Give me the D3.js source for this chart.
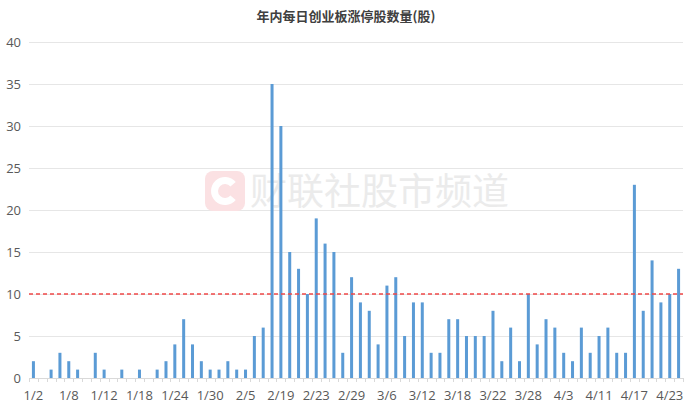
<!DOCTYPE html>
<html>
<head>
<meta charset="utf-8">
<script src="https://cdn.jsdelivr.net/npm/d3@7"></script>
<style>
  body { margin: 0; background: #fff; }
  svg { display: block; font-family: "Microsoft YaHei", "Noto Sans CJK SC", sans-serif; }
</style>
</head>
<body>
<svg id="chart"></svg>
<script>
// trading days (2024)
const dates = [
  "1/2", "1/3", "1/4", "1/5", "1/8", "1/9", "1/10", "1/11", "1/12", "1/15",
  "1/16", "1/17", "1/18", "1/19", "1/22", "1/23", "1/24", "1/25", "1/26", "1/29",
  "1/30", "1/31", "2/1", "2/2", "2/5", "2/6", "2/7", "2/8", "2/19", "2/20",
  "2/21", "2/22", "2/23", "2/26", "2/27", "2/28", "2/29", "3/1", "3/4", "3/5",
  "3/6", "3/7", "3/8", "3/11", "3/12", "3/13", "3/14", "3/15", "3/18", "3/19",
  "3/20", "3/21", "3/22", "3/25", "3/26", "3/27", "3/28", "3/29", "4/1", "4/2",
  "4/3", "4/8", "4/9", "4/10", "4/11", "4/12", "4/15", "4/16", "4/17", "4/18",
  "4/19", "4/22", "4/23", "4/24"
];
const limitUps = [
  2, 0, 1, 3, 2, 1, 0, 3, 1, 0,
  1, 0, 1, 0, 1, 2, 4, 7, 4, 2,
  1, 1, 2, 1, 1, 5, 6, 35, 30, 15,
  13, 10, 19, 16, 15, 3, 12, 9, 8, 4,
  11, 12, 5, 9, 9, 3, 3, 7, 7, 5,
  5, 5, 8, 2, 6, 2, 10, 4, 7, 6,
  3, 2, 6, 3, 5, 6, 3, 3, 23, 8,
  14, 9, 10, 13
];
const yTicks = [0, 5, 10, 15, 20, 25, 30, 35, 40];
const refLine = 10;
const title = "年内每日创业板涨停股数量(股)";
const watermark = "财联社股市频道";

const W = 692, H = 409;
const margin = { top: 42, right: 9, bottom: 31, left: 29 };
const innerW = W - margin.left - margin.right;
const innerH = H - margin.top - margin.bottom;

const svg = d3.select("#chart").attr("width", W).attr("height", H);

svg.append("text")
  .attr("x", W / 2).attr("y", 21)
  .attr("text-anchor", "middle")
  .style("font-size", "13px").style("font-weight", "bold")
  .style("fill", "#404040")
  .text(title);

const g = svg.append("g").attr("transform", "translate(" + margin.left + "," + margin.top + ")");

const x = d3.scaleBand().domain(dates).range([0, innerW]).paddingInner(0.66).paddingOuter(0.33);
const y = d3.scaleLinear().domain([0, 40]).range([innerH, 0]);

// gridlines
g.selectAll(".grid")
  .data(yTicks.filter(d => d > 0))
  .enter().append("line")
  .attr("x1", 0).attr("x2", innerW)
  .attr("y1", d => Math.round(y(d)) + 0.5).attr("y2", d => Math.round(y(d)) + 0.5)
  .attr("stroke", "#e6e6e6").attr("stroke-width", 1);

// y labels
g.selectAll(".ylab")
  .data(yTicks)
  .enter().append("text")
  .attr("x", -8).attr("y", d => y(d))
  .attr("dy", "0.35em")
  .attr("text-anchor", "end")
  .style("font-size", "13px").style("fill", "#595959")
  .style("font-family", "'Open Sans', sans-serif")
  .text(d => d);

// watermark
const wm = g.append("g").attr("transform", "translate(" + (205 - margin.left) + "," + (171 - margin.top) + ")");
wm.append("rect").attr("width", 40).attr("height", 40).attr("rx", 8).attr("fill", "#fbe1e3");
wm.append("path")
  .attr("d", d3.arc()({ innerRadius: 7, outerRadius: 14, startAngle: Math.PI * 0.22, endAngle: Math.PI * 1.78 }))
  .attr("transform", "translate(20,20) rotate(90)")
  .attr("fill", "#fff");
wm.append("text")
  .attr("x", 45).attr("y", 34)
  .style("font-size", "37px").style("fill", "#ebebeb")
  .style("font-family", "'Noto Sans CJK SC', sans-serif")
  .text(watermark);

// bars
g.selectAll(".bar")
  .data(limitUps)
  .enter().append("rect")
  .attr("x", (d, i) => x(dates[i]))
  .attr("y", d => y(d))
  .attr("width", x.bandwidth())
  .attr("height", d => innerH - y(d))
  .attr("fill", "#5b9bd5");

// x axis baseline with ticks between categories
const xAxis = g.append("g").attr("transform", "translate(0," + innerH + ")");
xAxis.append("line").attr("x1", 0).attr("x2", innerW).attr("y1", 0.5).attr("y2", 0.5)
  .attr("stroke", "#d9d9d9");
const step = x.step();
xAxis.selectAll(".tick")
  .data(d3.range(dates.length + 1))
  .enter().append("line")
  .attr("x1", i => Math.round(i * step) + 0.5).attr("x2", i => Math.round(i * step) + 0.5)
  .attr("y1", 0).attr("y2", 4)
  .attr("stroke", "#d9d9d9");
xAxis.selectAll(".xlab")
  .data(dates.filter((d, i) => i % 4 === 0))
  .enter().append("text")
  .attr("x", d => x(d) + x.bandwidth() / 2)
  .attr("y", 22)
  .attr("text-anchor", "middle")
  .style("font-size", "13px").style("fill", "#595959")
  .style("font-family", "'Open Sans', sans-serif")
  .text(d => d);

// reference line
g.append("line")
  .attr("x1", 0).attr("x2", innerW)
  .attr("y1", y(refLine)).attr("y2", y(refLine))
  .attr("stroke", "#f04848").attr("stroke-width", 1.5)
  .attr("stroke-dasharray", "4,3");
</script>
</body>
</html>
